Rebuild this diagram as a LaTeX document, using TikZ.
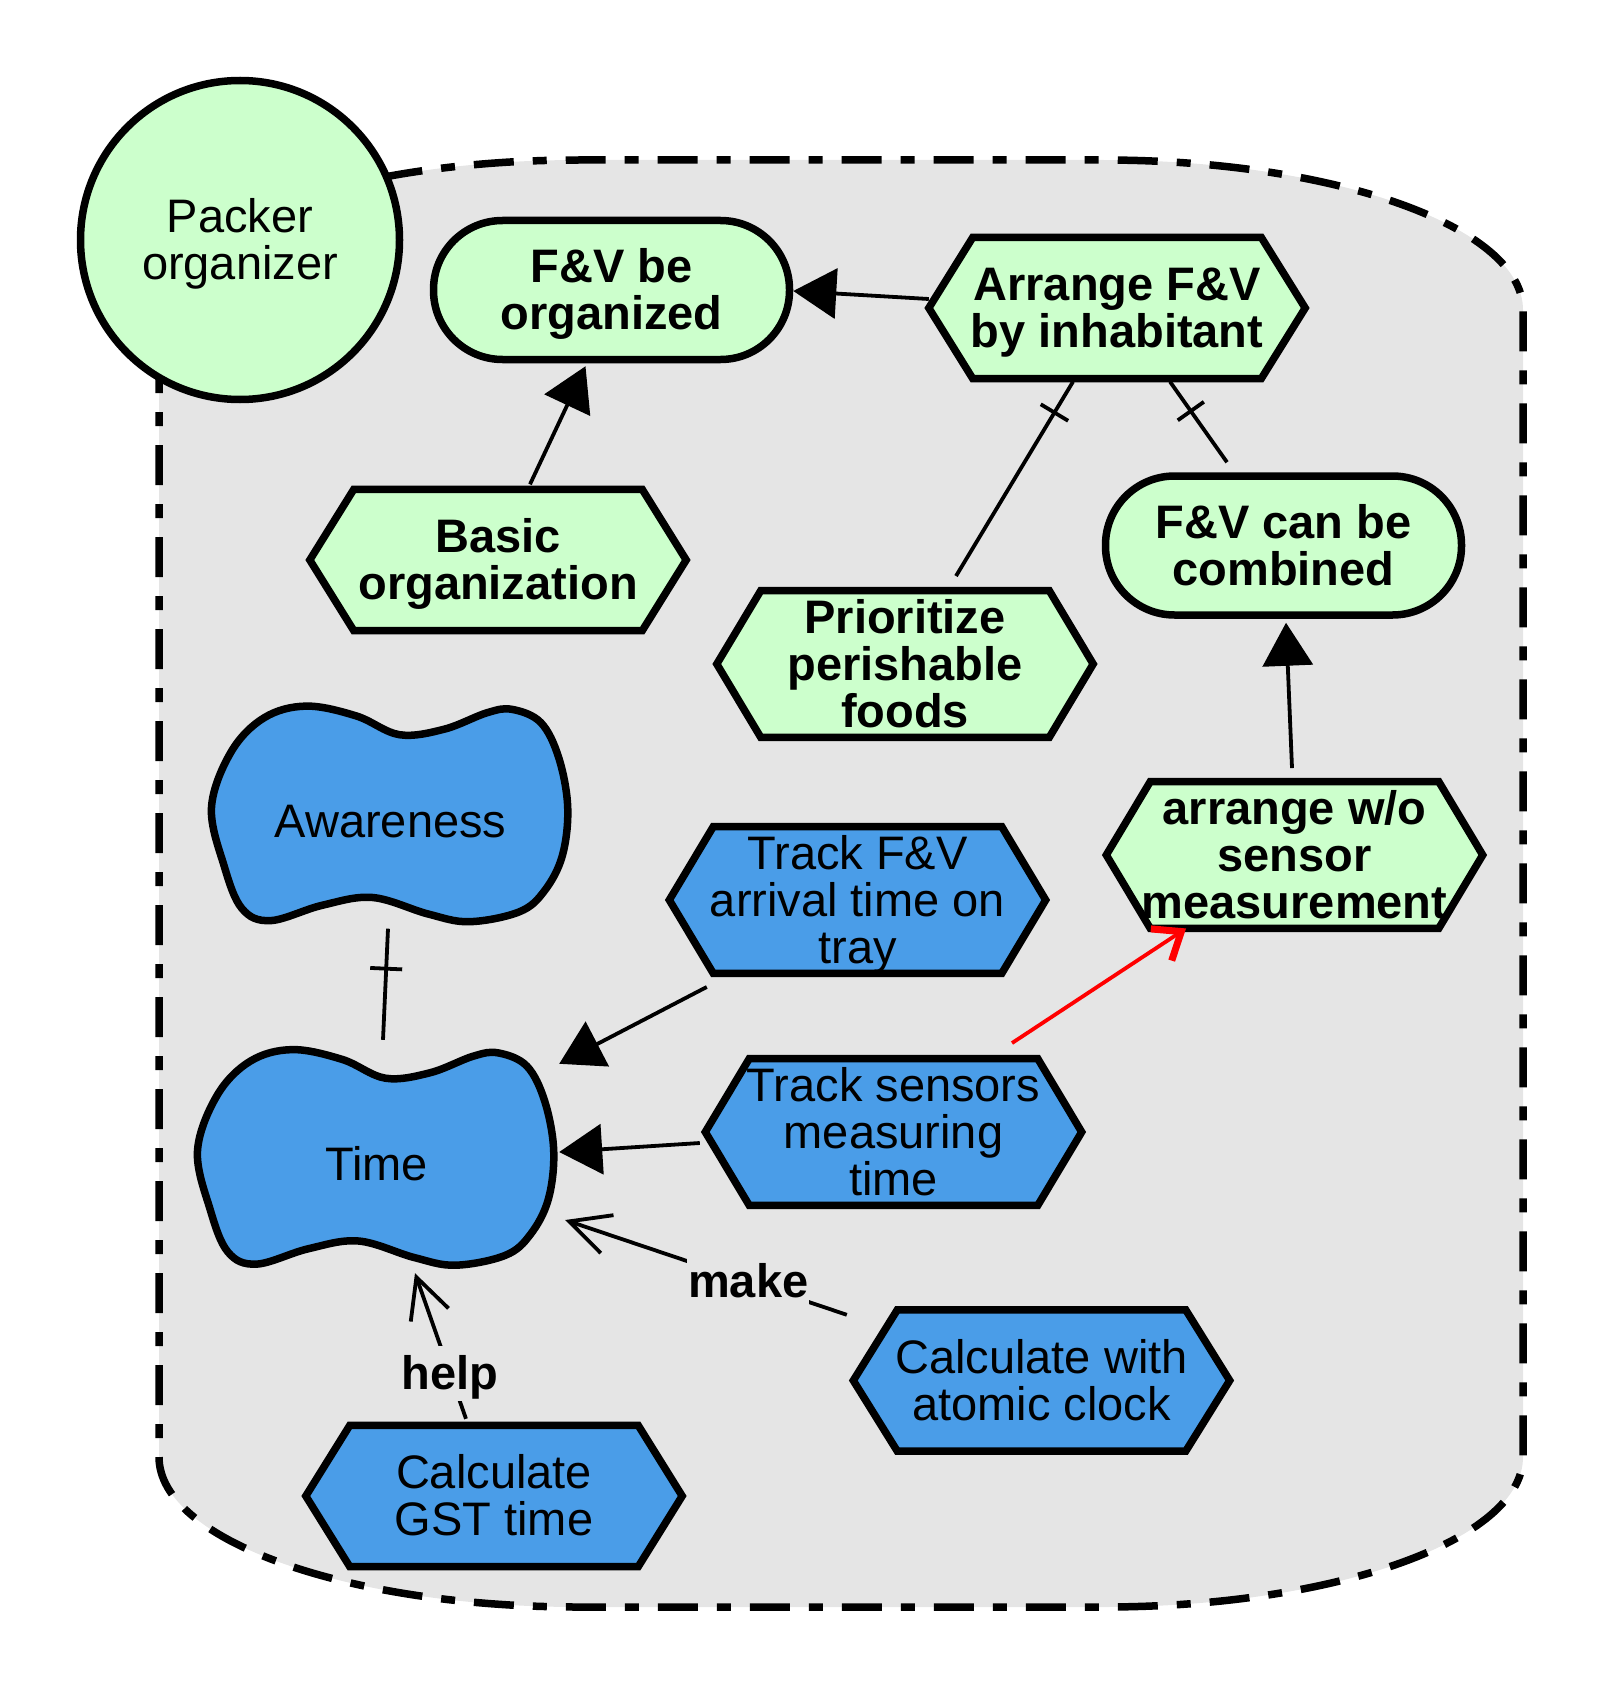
\documentclass[tikz,border=0pt]{standalone}
\usepackage{fontspec}
\setmainfont{Liberation Sans}
\usetikzlibrary{arrows.meta,decorations.markings,calc}
\definecolor{nodegreen}{HTML}{CCFFCC}
\definecolor{nodeblue}{RGB}{74,157,232}
\definecolor{regiongray}{HTML}{E5E5E5}
\pgfdeclarelayer{back}
\pgfdeclarelayer{mid}
\pgfsetlayers{back,mid,main}
\newcommand\lstrut{\rule[-0.212em]{0pt}{1.117em}}
\newcommand\lowtext[1]{\raisebox{-6pt}[0.905em][0.212em]{#1}}
\newcommand\nodefont{\fontsize{47pt}{47pt}\selectfont\lineskiplimit=-100pt\relax}
\newcommand\hexshape[2]{%
  \begin{pgfonlayer}{mid}
  \draw[shapeline, fill=#2] (#1.west) -- ([xshift=44pt]#1.north west) -- ([xshift=-44pt]#1.north east) -- (#1.east) -- ([xshift=-44pt]#1.south east) -- ([xshift=44pt]#1.south west) -- cycle;
  \end{pgfonlayer}}
\newcommand\blobshape[1]{%
  \begin{pgfonlayer}{mid}
  \begin{scope}[shift={(#1.center)}, x=179pt, y=-110pt]
  \draw[shapeline, fill=nodeblue, line join=round] plot[smooth cycle, tension=0.6] coordinates {(-1,-0.07) (-0.89,-0.575) (-0.705,-0.885) (-0.47,-0.99) (-0.19,-0.9) (0.05,-0.73) (0.3,-0.78) (0.54,-0.93) (0.68,-0.96) (0.84,-0.84) (0.94,-0.52) (0.99,-0.07) (0.96,0.37) (0.86,0.69) (0.72,0.88) (0.44,0.97) (0.21,0.9) (-0.1,0.75) (-0.38,0.82) (-0.67,0.96) (-0.83,0.85) (-0.93,0.46)};
  \end{scope}
  \end{pgfonlayer}}
\begin{document}
\begin{tikzpicture}[x=1pt,y=-1pt,
  shapeline/.style={draw=black, line width=7.5pt, line join=miter},
  txt/.style={inner sep=0pt, align=center, font=\nodefont, text=black},
  boldtxt/.style={txt, font=\nodefont\bfseries},
  hexnode/.style={minimum width=376pt, minimum height=141pt},
  stadium/.style={draw=black, line width=7.5pt, fill=nodegreen, rounded corners=69pt, minimum width=356pt, minimum height=139pt},
  blobnode/.style={txt, minimum width=358pt, minimum height=220pt},
  conn/.style={line width=3.8pt, draw=black},
  fat/.style={-{Triangle[length=43pt,width=50pt]}},
  barb/.style={-{Straight Barb[length=40pt,width=40pt]}},
  ticked/.style={postaction={decorate}, decoration={markings, mark=at position #1 with {\draw[line width=3.8pt] (0pt,-16pt) -- (0pt,16pt);}}},
  lbl/.style={font=\nodefont\bfseries, fill=regiongray, inner sep=1pt}
]
\useasboundingbox (0,0) rectangle (1604,1688);

% boundary region
\begin{pgfonlayer}{back}
\draw[line width=7.5pt, fill=regiongray, dash pattern=on 40pt off 19pt on 14pt off 19pt]
  (159,310) .. controls (159,227) and (347,160) .. (579,160) -- (1103,160)
  .. controls (1335,160) and (1523,227) .. (1523,310) -- (1523,1457)
  .. controls (1523,1540) and (1335,1607) .. (1103,1607) -- (579,1607)
  .. controls (347,1607) and (159,1540) .. (159,1457) -- cycle;
\end{pgfonlayer}

% actor
\node[txt, circle, draw=black, line width=7.5pt, fill=nodegreen, minimum size=319pt] (pack) at (240,240) {\lstrut Packer\\organizer\lstrut};

% green nodes
\node[boldtxt, stadium] (fvo) at (611.5,290) {\lstrut F\&V be\\organized\lstrut};
\node[boldtxt, stadium] (fvc) at (1283.5,545.5) {\lstrut F\&V can be\\combined\lstrut};
\node[boldtxt, hexnode] (arr) at (1117,308) {\lstrut Arrange F\&V\\by inhabitant\lstrut};
\hexshape{arr}{nodegreen}
\node[boldtxt, hexnode] (bas) at (498,560) {\lstrut Basic\\organization\lstrut};
\hexshape{bas}{nodegreen}
\node[boldtxt, hexnode] (pri) at (905,664) {\lstrut Prioritize\\perishable\\foods\lstrut};
\hexshape{pri}{nodegreen}
\node[boldtxt, hexnode] (aws) at (1294.5,855) {\lstrut arrange w/o\\sensor\\measurement\lstrut};
\hexshape{aws}{nodegreen}

% blue nodes
\node[blobnode] (awa) at (390.5,815) {\lowtext{Awareness}};
\blobshape{awa}
\node[blobnode] (time) at (376.5,1158.5) {\lowtext{Time}};
\blobshape{time}
\node[txt, hexnode] (tfa) at (857.5,900) {\lstrut Track F\&V\\arrival time on\\tray\lstrut};
\hexshape{tfa}{nodeblue}
\node[txt, hexnode] (tsm) at (893.5,1132) {\lstrut Track sensors\\measuring\\time\lstrut};
\hexshape{tsm}{nodeblue}
\node[txt, hexnode] (cac) at (1041.5,1380.5) {\lstrut Calculate with\\atomic clock\lstrut};
\hexshape{cac}{nodeblue}
\node[txt, hexnode] (gst) at (494,1496) {\lstrut Calculate\\GST time\lstrut};
\hexshape{gst}{nodeblue}

% connectors
\draw[conn, fat] ([yshift=9pt]arr.west) -- ([yshift=-1pt]fvo.east);
\draw[conn, fat] ([xshift=32pt,yshift=5pt]bas.north) -- ([xshift=-26pt,yshift=-3pt]fvo.south);
\draw[conn, ticked=36pt] ([xshift=-44pt,yshift=-3pt]arr.south) -- ([xshift=51pt,yshift=14.5pt]pri.north);
\draw[conn, ticked=36pt] ([xshift=53pt,yshift=-3pt]arr.south) -- ([xshift=-56.5pt,yshift=10pt]fvc.north);
\draw[conn, fat] ([xshift=-2.5pt,yshift=13.5pt]aws.north) -- ([xshift=2.5pt,yshift=-4pt]fvc.south);
\draw[conn, fat] ([xshift=37.5pt,yshift=-13.5pt]tfa.south west) -- ([xshift=3.5pt,yshift=-15.5pt]time.north east);
\draw[conn, fat] ([xshift=-5.5pt,yshift=-11pt]tsm.west) -- ([xshift=3.5pt,yshift=6.5pt]time.east);
\draw[conn, ticked=40pt] ([xshift=-2.5pt,yshift=-3.5pt]awa.south) -- ([xshift=6.5pt,yshift=8.5pt]time.north);
\draw[line width=3.8pt, red, -{Straight Barb[length=24pt,width=38pt,line width=7pt]}] ([xshift=118.5pt,yshift=15.5pt]tsm.north) -- ([xshift=-108.5pt]aws.south);
\draw[conn, barb] ([xshift=-6.5pt,yshift=-5pt]cac.north west) -- node[lbl, pos=0.35] {\lstrut make\lstrut} ([xshift=9.5pt,yshift=-61.5pt]time.east);
\draw[conn, barb] ([xshift=-28pt,yshift=6.5pt]gst.north) -- node[lbl, pos=0.31] {\lstrut help\lstrut} ([xshift=38.5pt,yshift=-4.5pt]time.south);
\end{tikzpicture}
\end{document}
